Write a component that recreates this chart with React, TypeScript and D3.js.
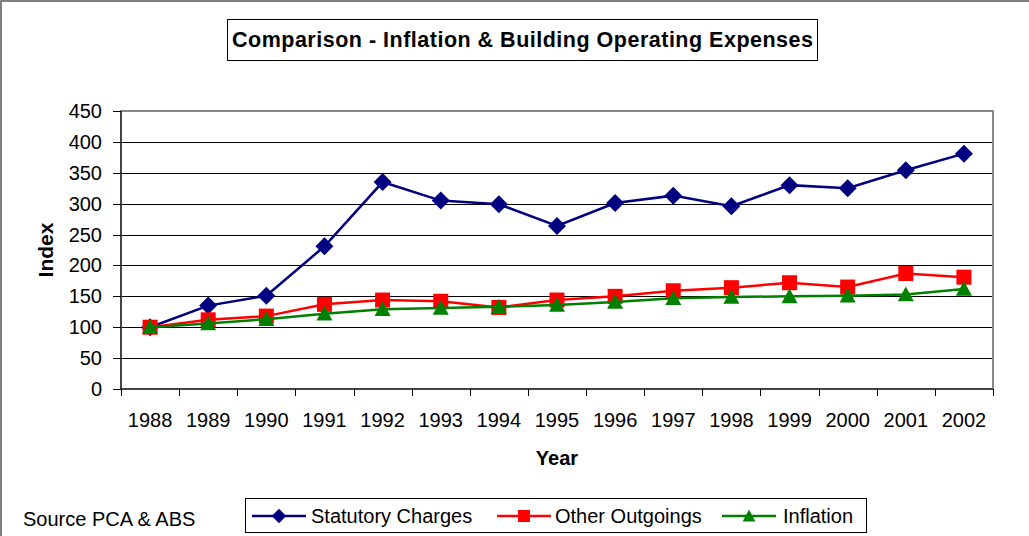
import React from "react";
import * as d3 from "d3";

const years = ["1988","1989","1990","1991","1992","1993","1994","1995","1996","1997","1998","1999","2000","2001","2002"];
const statutory = [100,135,151,231,335,305,299,264,301,313,296,330,325,354,381];
const otherOutgoings = [100,112,118,137,144,142,132,144,150,159,164,172,165,187,181];
const inflation = [100,106,113,122,129,131,133,136,141,147,149,150,151,153,162];
const yTicks = [0,50,100,150,200,250,300,350,400,450];

const series = [
  { name: "Statutory Charges", values: statutory, color: "#000080", marker: "diamond" },
  { name: "Other Outgoings", values: otherOutgoings, color: "#FF0000", marker: "square" },
  { name: "Inflation", values: inflation, color: "#008000", marker: "triangle" },
];

const W = 1029, H = 536;
const plot = { left: 121, right: 993, top: 111, bottom: 389 };
const font = "Arial, 'Liberation Sans', sans-serif";

function Marker({ type, x, y, color, k = 1 }: { type: string; x: number; y: number; color: string; k?: number }) {
  if (type === "diamond") {
    const s = 9 * k;
    return <path d={`M${x},${y - s}L${x + s},${y}L${x},${y + s}L${x - s},${y}Z`} fill={color} />;
  }
  if (type === "square") {
    const s = 7.5 * k;
    return <rect x={x - s} y={y - s} width={2 * s} height={2 * s} fill={color} />;
  }
  const s = 8 * k;
  return <path d={`M${x},${y - s}L${x + s},${y + s * 0.85}L${x - s},${y + s * 0.85}Z`} fill={color} />;
}

export default function App() {
  const x = d3.scaleBand<string>().domain(years).range([plot.left, plot.right]);
  const y = d3.scaleLinear().domain([0, 450]).range([plot.bottom, plot.top]);
  const cx = (yr: string) => (x(yr) as number) + x.bandwidth() / 2;
  const line = d3.line<number>().x((_, i) => cx(years[i])).y((v) => y(v));
  const bounds = years.map((yr) => x(yr) as number).concat([plot.right]);

  const legendItems = [
    { x: 252, textX: 311 },
    { x: 497, textX: 555 },
    { x: 722, textX: 783 },
  ];

  return (
    <svg width={W} height={H} style={{ position: "absolute", left: 0, top: 0, background: "#fff" }} fontFamily={font}>
      <rect x={1} y={1} width={W + 20} height={H + 20} fill="#fff" stroke="#555" strokeWidth={1.5} />
      {/* title */}
      <rect x={227.5} y={19.5} width={590} height={41} fill="#fff" stroke="#000" strokeWidth={1} />
      <text x={232} y={47} fontSize={21.5} fontWeight="bold" textLength={581} lengthAdjust="spacing">Comparison - Inflation &amp; Building Operating Expenses</text>

      {/* gridlines */}
      {yTicks.filter((t) => t > 0 && t < 450).map((t) => (
        <line key={t} x1={plot.left} x2={plot.right} y1={Math.round(y(t)) + 0.5} y2={Math.round(y(t)) + 0.5} stroke="#000" strokeWidth={1} />
      ))}
      {/* plot border */}
      <rect x={plot.left} y={plot.top} width={plot.right - plot.left} height={plot.bottom - plot.top} fill="none" stroke="#888" strokeWidth={2} />
      {/* axes */}
      <line x1={plot.left} x2={plot.left} y1={plot.top} y2={plot.bottom} stroke="#000" strokeWidth={1} />
      <line x1={plot.left} x2={plot.right} y1={plot.bottom} y2={plot.bottom} stroke="#000" strokeWidth={1} />
      {yTicks.map((t) => (
        <g key={t}>
          <line x1={plot.left - 8} x2={plot.left} y1={Math.round(y(t)) + 0.5} y2={Math.round(y(t)) + 0.5} stroke="#000" />
          <text x={102} y={y(t) + 7} textAnchor="end" fontSize={20}>{t}</text>
        </g>
      ))}
      {bounds.map((b, i) => (
        <line key={i} x1={Math.round(b) + 0.5} x2={Math.round(b) + 0.5} y1={plot.bottom} y2={plot.bottom + 7} stroke="#000" />
      ))}
      {years.map((yr) => (
        <text key={yr} x={cx(yr)} y={427} textAnchor="middle" fontSize={20}>{yr}</text>
      ))}
      <text x={557} y={465} textAnchor="middle" fontSize={20} fontWeight="bold">Year</text>
      <text transform={`translate(53,${(plot.top + plot.bottom) / 2}) rotate(-90)`} textAnchor="middle" fontSize={21} fontWeight="bold">Index</text>

      {/* series */}
      {series.map((s) => (
        <g key={s.name}>
          <path d={line(s.values) as string} fill="none" stroke={s.color} strokeWidth={2.5} />
          {s.values.map((v, i) => (
            <Marker key={i} type={s.marker} x={cx(years[i])} y={y(v)} color={s.color} />
          ))}
        </g>
      ))}

      {/* source */}
      <text x={23} y={526} fontSize={20}>Source PCA &amp; ABS</text>

      {/* legend */}
      <rect x={245.5} y={498.5} width={621} height={34} fill="#fff" stroke="#000" strokeWidth={1} />
      {series.map((s, i) => {
        const it = legendItems[i];
        return (
          <g key={s.name}>
            <line x1={it.x} x2={it.x + 54} y1={516} y2={516} stroke={s.color} strokeWidth={2.5} />
            <Marker type={s.marker} x={it.x + 27} y={516} color={s.color} k={0.8} />
            <text x={it.textX} y={523} fontSize={20}>{s.name}</text>
          </g>
        );
      })}
    </svg>
  );
}
